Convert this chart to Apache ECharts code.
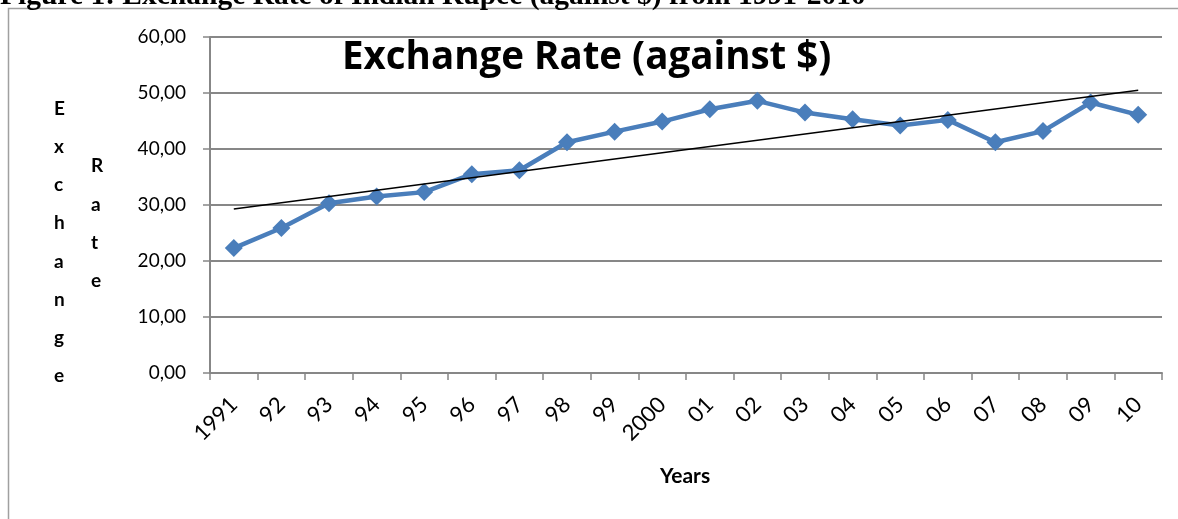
<!DOCTYPE html>
<html>
<head>
<meta charset="utf-8">
<script src="https://cdn.jsdelivr.net/npm/echarts@6/dist/echarts.min.js"></script>
<style>
  html, body { margin: 0; padding: 0; background: #fff; }
  #chart { width: 1178px; height: 519px; }
</style>
</head>
<body>
<div id="chart"></div>
<script>
  // data
  var years = ['1991', '92', '93', '94', '95', '96', '97', '98', '99', '2000',
               '01', '02', '03', '04', '05', '06', '07', '08', '09', '10'];
  var rates = [22.3, 25.9, 30.3, 31.5, 32.3, 35.5, 36.2, 41.2, 43.1, 44.9,
               47.1, 48.6, 46.5, 45.3, 44.2, 45.2, 41.2, 43.2, 48.3, 46.1];
  // linear trend line, end points only
  var trendYears = ['1991', '10'];
  var trendValues = [29.3, 50.5];
  var yTicks = [0, 10, 20, 30, 40, 50, 60];

  var font = 'Lato, "Open Sans", sans-serif';
  var gray = '#878787';

  var myChart = echarts.init(document.getElementById('chart'))

  var option = {
    animation: false,
    textStyle: { fontFamily: font },
    grid: { left: 210, right: 16, top: 37, bottom: 146 },
    xAxis: {
      type: 'category',
      data: years,
      boundaryGap: true,
      axisLine: { lineStyle: { color: gray, width: 2 } },
      axisTick: { show: true, length: 7, lineStyle: { color: gray, width: 1.5 } },
      axisLabel: { rotate: 45, color: '#000', fontSize: 22, margin: 28, fontFamily: font, interval: 0 },
      splitLine: { show: false }
    },
    yAxis: {
      type: 'value',
      min: yTicks[0],
      max: yTicks[yTicks.length - 1],
      interval: 10,
      axisLine: { show: true, lineStyle: { color: gray, width: 2 } },
      axisTick: { show: true, length: 7, lineStyle: { color: gray, width: 1.5 } },
      axisLabel: {
        color: '#000', fontSize: 19, margin: 24, fontFamily: font,
        formatter: function (v) { return v.toFixed(2).replace('.', ','); }
      },
      splitLine: { lineStyle: { color: gray, width: 2 } }
    },
    series: [
      {
        type: 'line',
        data: rates,
        symbol: 'diamond',
        symbolSize: 18,
        z: 3,
        lineStyle: { color: '#4A7EBB', width: 4.5 },
        itemStyle: { color: '#4A7EBB' }
      },
      {
        type: 'line',
        data: trendYears.map(function (y, i) { return [y, trendValues[i]]; }),
        symbol: 'none',
        z: 4,
        lineStyle: { color: '#000', width: 1.5 }
      }
    ],
    graphic: [
      { type: 'rect', shape: { x: 8.5, y: 8.5, width: 1200, height: 600 }, style: { fill: null, stroke: '#a0a0a0', lineWidth: 1.5 }, z: -1 },
      { type: 'text', left: 0, top: -19, style: { text: 'Figure 1: Exchange Rate of Indian Rupee (against $) from 1991-2010', font: 'bold 29.5px "Liberation Serif", serif', fill: '#000' } },
      { type: 'text', left: 342, top: 39, style: { text: 'Exchange Rate (against $)', font: 'bold 38.5px "Open Sans", sans-serif', fill: '#000' } },
      { type: 'text', left: 54, top: 90, style: { text: 'E\nx\nc\nh\na\nn\ng\ne', font: 'bold 19px ' + font, lineHeight: 38.1, fill: '#000', align: 'center' } },
      { type: 'text', left: 91, top: 147, style: { text: 'R\na\nt\ne', font: 'bold 19px ' + font, lineHeight: 38.3, fill: '#000', align: 'center' } },
      { type: 'text', left: 660, top: 466, style: { text: 'Years', font: 'bold 21px ' + font, fill: '#000' } }
    ]
  };

  myChart.setOption(option, true)
</script>
</body>
</html>
